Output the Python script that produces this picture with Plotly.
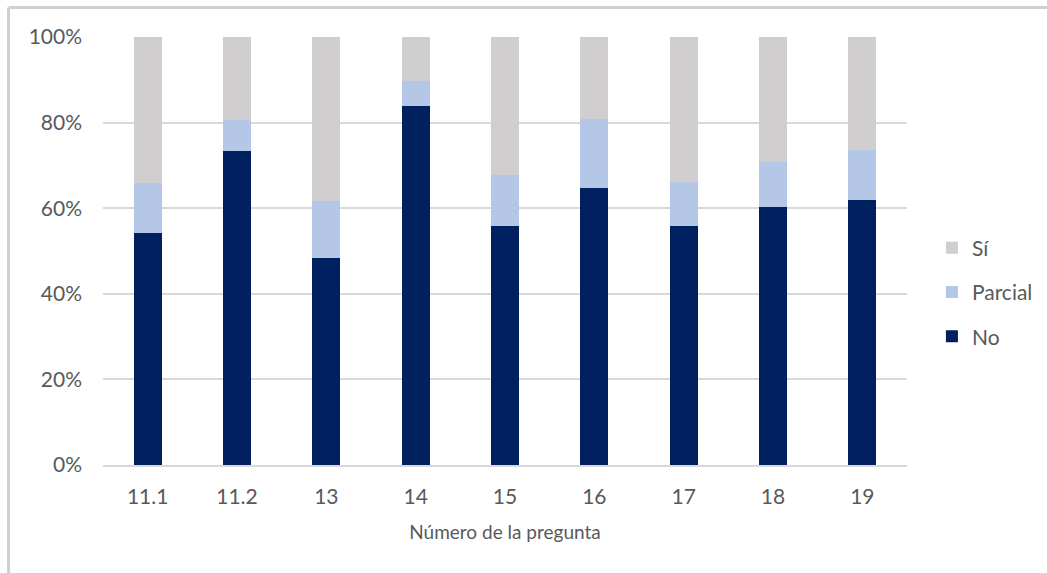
import plotly.graph_objects as go

# Survey answers per question, as percentage of respondents
preguntas = ["11.1", "11.2", "13", "14", "15", "16", "17", "18", "19"]
no_pct = [54.3, 73.4, 48.4, 83.8, 55.9, 64.7, 55.9, 60.3, 61.9]
parcial_pct = [11.7, 7.3, 13.4, 5.9, 11.8, 16.2, 10.2, 10.4, 11.6]
si_pct = [34.0, 19.3, 38.2, 10.3, 32.3, 19.1, 33.9, 29.3, 26.5]

# (name, values, colour, legend rank) — stacked bottom to top, listed top to bottom in legend
series = [
    ("No", no_pct, "#002060", 3),
    ("Parcial", parcial_pct, "#B4C7E7", 2),
    ("Sí", si_pct, "#D0CECE", 1),
]

FONT = "Lato, Carlito, Calibri, sans-serif"
TEXT = "#595959"

fig = go.Figure()
for name, vals, color, rank in series:
    fig.add_trace(go.Bar(
        x=preguntas, y=vals, name=name, legendgroup=name, legendrank=rank,
        marker=dict(color=color, line=dict(width=0)),
    ))

fig.update_layout(
    width=1047, height=573,
    barmode="stack", bargap=0.69,
    paper_bgcolor="white", plot_bgcolor="white",
    margin=dict(l=103, r=140, t=37, b=108, autoexpand=False),
    font=dict(family=FONT, size=21, color=TEXT),
    legend=dict(
        traceorder="grouped", tracegroupgap=14,
        x=1.031, xanchor="left", y=0.404, yanchor="middle",
        font=dict(size=21, color=TEXT), itemwidth=30,
    ),
    xaxis=dict(
        showgrid=False, showline=True, linecolor="#D9D9D9", linewidth=1.5,
        ticks="", ticklabelstandoff=12,
        title=dict(text="Número de la pregunta", font=dict(size=19, color=TEXT), standoff=19),
    ),
    yaxis=dict(
        range=[0, 100], dtick=20, ticksuffix="%",
        showgrid=True, gridcolor="#D9D9D9", gridwidth=1.5,
        zeroline=False, showline=False, ticks="", ticklabelstandoff=20,
    ),
    shapes=[
        # outer frame of the chart area (top and left edges)
        dict(type="line", xref="paper", yref="paper", x0=-0.1175, x1=1.2, y0=1.069, y1=1.069,
             line=dict(color="#D0D0D0", width=3)),
        dict(type="line", xref="paper", yref="paper", x0=-0.1175, x1=-0.1175, y0=1.069, y1=-0.3,
             line=dict(color="#D0D0D0", width=3)),
    ],
)

fig.write_html("out.html")
